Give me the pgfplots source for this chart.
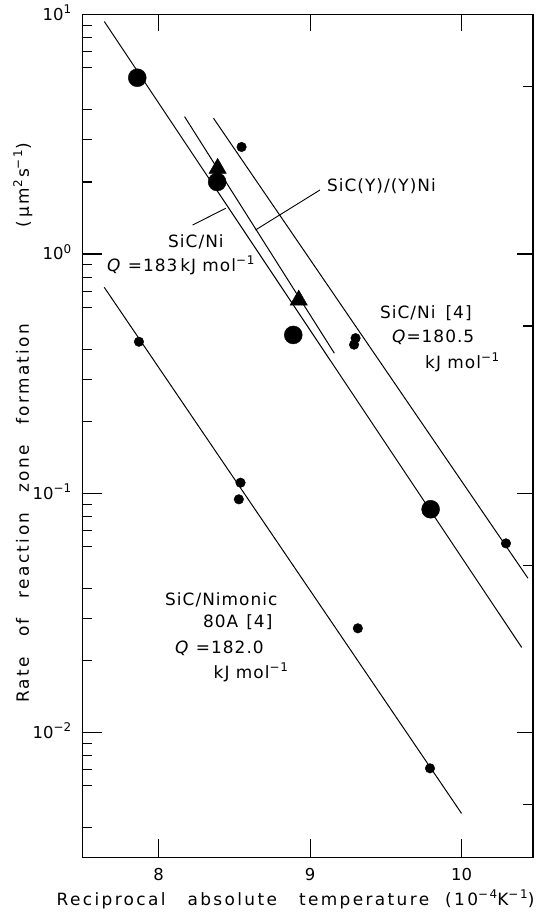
\documentclass[border=0pt]{standalone}
\usepackage{fontspec}
\setmainfont{DejaVu Sans}
\usepackage{pgfplots}
\pgfplotsset{compat=1.18}
\newfontfamily\labfont[LetterSpace=6]{DejaVu Sans}
\newfontfamily\axfont[LetterSpace=14]{DejaVu Sans}
\newfontfamily\tickfont{DejaVu Sans}
\newcommand\sups[1]{\raisebox{7pt}{\fontsize{12}{12}\selectfont #1}}

\begin{document}
\begin{tikzpicture}
\begin{axis}[
  ymode=log, xmin=7.5, xmax=10.47, ymin=0.003, ymax=10,
  scale only axis, width=450.25bp, height=843.2bp,
  axis line style={line width=1.2bp},
  tick style={black, line width=1.1bp},
  tick align=inside, clip=false,
  xtick={8,9,10}, xticklabels={8,9,10}, xtick pos=bottom,
  minor xtick={},
  ytick={0.01,0.1,1,10},
  yticklabels={10\sups{−2},10\sups{−1},10\sups{0},10\sups{1}},
  ytick pos=left,
  minor ytick={0.004,0.006,0.007,0.008,0.009,0.02,0.03,0.04,0.06,0.07,0.08,0.09,0.2,0.3,0.4,0.6,0.7,0.8,0.9,2,3,4,6,7,8,9},
  major tick length=19bp, minor tick length=9bp,
  xticklabel style={font=\tickfont\fontsize{16.5}{18}\selectfont, yshift=-7bp},
  yticklabel style={font=\tickfont\fontsize{16.5}{18}\selectfont, anchor=base east, yshift=-6bp, xshift=-8bp},
]
% SiC/Ni fit line
\addplot[black, line width=1bp] coordinates {(7.6425,9.36) (10.396,0.0227)};
% SiC(Y)/(Y)Ni fit line
\addplot[black, line width=1bp] coordinates {(8.172,3.75) (9.160,0.385)};
% SiC/Ni [4] fit line
\addplot[black, line width=1bp] coordinates {(8.363,3.69) (10.437,0.0442)};
% SiC/Nimonic 80A [4] fit line
\addplot[black, line width=1bp] coordinates {(7.642,0.726) (9.999,0.0046)};

% SiC(Y)/(Y)Ni triangles
\addplot[only marks, mark=triangle*, mark size=10bp, black] coordinates {(8.39,2.28) (8.925,0.642)};
% SiC/Ni large circles
\addplot[only marks, mark=*, mark size=9bp, black] coordinates {(7.86,5.45) (8.387,2.0) (8.889,0.459) (9.795,0.0858)};
% SiC/Ni [4] small circles
\addplot[only marks, mark=*, mark size=4.8bp, black] coordinates {(8.548,2.80) (9.30,0.445) (9.29,0.418) (10.292,0.0618)};
% SiC/Nimonic small circles
\addplot[only marks, mark=*, mark size=4.8bp, black] coordinates {(7.871,0.430) (8.541,0.1108) (8.530,0.0944) (9.315,0.0273) (9.791,0.0071)};

% annotations
\node[anchor=west, inner sep=0pt, font=\labfont\fontsize{17}{20}\selectfont] at (axis cs:9.111,1.923) {SiC(Y)/(Y)Ni};
\node[anchor=center, inner sep=0pt, font=\labfont\fontsize{17}{20}\selectfont] at (axis cs:8.247,1.122) {SiC/Ni};
\node[anchor=west, inner sep=0pt, font=\labfont\fontsize{17}{20}\selectfont] at (axis cs:7.660,0.900) {\textit{Q} =183\,kJ mol\sups{−1}};
\node[anchor=west, inner sep=0pt, font=\labfont\fontsize{17}{20}\selectfont] at (axis cs:9.461,0.567) {SiC/Ni\hspace{10bp}[4]};
\node[anchor=west, inner sep=0pt, font=\labfont\fontsize{17}{20}\selectfont] at (axis cs:9.540,0.4498) {\textit{Q}=180.5};
\node[anchor=west, inner sep=0pt, font=\labfont\fontsize{17}{20}\selectfont] at (axis cs:9.758,0.3537) {kJ mol\sups{−1}};
\node[anchor=west, inner sep=0pt, font=\labfont\fontsize{17}{20}\selectfont] at (axis cs:8.043,0.03584) {SiC/Nimonic};
\node[anchor=west, inner sep=0pt, font=\labfont\fontsize{17}{20}\selectfont] at (axis cs:8.2935,0.0290) {80A\hspace{8bp}[4]};
\node[anchor=west, inner sep=0pt, font=\labfont\fontsize{17}{20}\selectfont] at (axis cs:8.109,0.02259) {\textit{Q} =182.0};
\node[anchor=west, inner sep=0pt, font=\labfont\fontsize{17}{20}\selectfont] at (axis cs:8.363,0.01793) {kJ mol\sups{−1}};
\draw[line width=0.9bp] (axis cs:9.065,1.851) -- (axis cs:8.640,1.26);
\draw[line width=0.9bp] (axis cs:8.225,1.322) -- (axis cs:8.444,1.552);

% axis titles
\node[rotate=90, anchor=base west, inner sep=0pt, font=\axfont\fontsize{17}{20}\selectfont]
  at (axis cs:7.1458,0.0133) {Rate\hspace{20bp}of\hspace{20bp}reaction\hspace{20bp}zone\hspace{20bp}formation};
\node[rotate=90, anchor=base east, inner sep=0pt, font=\axfont\fontsize{17}{20}\selectfont]
  at (axis cs:7.1458,2.91) {(\hspace{3bp}μ\hspace{3bp}m\sups{2}\hspace{2bp}s\sups{−1})};
\node[anchor=base, inner sep=0pt, font=\axfont\fontsize{17}{20}\selectfont]
  at (axis cs:8.904,0.001905) {Reciprocal\hspace{22bp}absolute\hspace{22bp}temperature\hspace{16bp}(10\sups{−4}K\sups{−1})};

\coordinate (bbsw) at (axis cs:6.9545,0.001682);
\coordinate (bbne) at (axis cs:10.556,11.513);
\end{axis}
% top and right ticks
\begin{axis}[
  ymode=log, xmin=7.5, xmax=10.47, ymin=0.003, ymax=10,
  scale only axis, width=450.25bp, height=843.2bp,
  axis line style={line width=1.2bp},
  tick style={black, line width=1.1bp},
  tick align=inside,
  xtick={8,9,10}, xticklabels={}, xtick pos=top, minor xtick={},
  ytick={0.01,0.1,1,10}, yticklabels={}, ytick pos=right,
  minor ytick={0.005,0.05,0.5,5},
  major tick length=16bp, minor tick length=10bp,
]
\end{axis}
% medium ticks on left and bottom
\begin{axis}[
  ymode=log, xmin=7.5, xmax=10.47, ymin=0.003, ymax=10,
  scale only axis, width=450.25bp, height=843.2bp,
  axis line style={line width=1.2bp},
  tick style={black, line width=1.1bp},
  tick align=inside,
  xtick=\empty, minor xtick={8.5,9.5}, xtick pos=bottom,
  ytick=\empty, minor ytick={0.005,0.05,0.5,5}, ytick pos=left,
  minor tick length=13bp,
]
\end{axis}
\pgfresetboundingbox
\useasboundingbox (bbsw) rectangle (bbne);
\end{tikzpicture}
\end{document}
